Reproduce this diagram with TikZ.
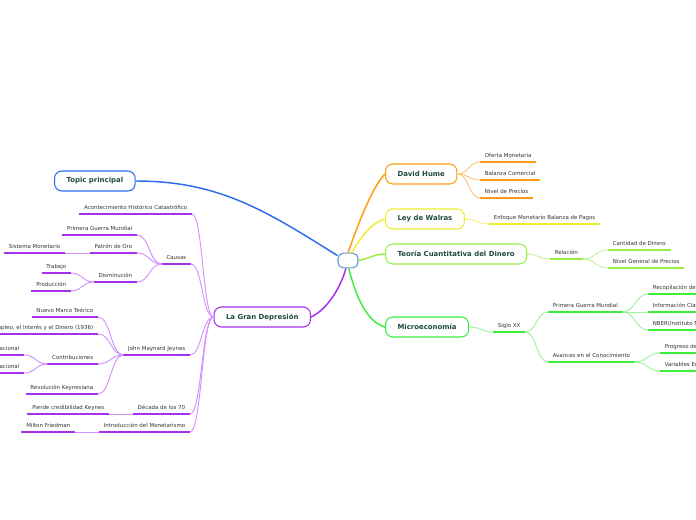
\documentclass[tikz,border=0pt]{standalone}
\usepackage{fontspec}
\setmainfont{DejaVu Sans}
\usepackage{tikz}
\usetikzlibrary{calc}

\definecolor{temaTexto}{HTML}{1E4B3C}
\definecolor{subTexto}{HTML}{333333}
\definecolor{azul}{HTML}{2E6BF0}
\definecolor{celeste}{HTML}{5C9BD0}
\definecolor{morado}{HTML}{A530EE}
\definecolor{moradoC}{HTML}{D291FF}
\definecolor{naranja}{HTML}{FF9C10}
\definecolor{naranjaC}{HTML}{FFC57A}
\definecolor{amarillo}{HTML}{EEEE30}
\definecolor{amarilloC}{HTML}{F2F27A}
\definecolor{lima}{HTML}{99EE44}
\definecolor{limaC}{HTML}{C4F29A}
\definecolor{verde}{HTML}{3CEE3C}
\definecolor{verdeC}{HTML}{9EF29E}

\begin{document}
\begin{tikzpicture}[
  x=0.75pt, y=-0.75pt,
  raiz/.style={draw=celeste, line width=0.8pt, rounded corners=4pt, fill=white,
               minimum width=15pt, minimum height=11pt},
  tema/.style={draw=#1, line width=0.8pt, rounded corners=5.5pt, fill=white,
               minimum height=15pt, inner xsep=9pt, text=temaTexto,
               font=\fontsize{5.2}{6}\selectfont\bfseries},
  sub/.style={font=\fontsize{4.1}{5}\selectfont, text=subTexto, inner xsep=3.4pt,
              inner ysep=2pt, text height=3pt, text depth=0.9pt,
              append after command={(\tikzlastnode.south west) edge[draw=#1, line width=1.5pt] (\tikzlastnode.south east)}},
  rama/.style={draw=#1, line width=1.1pt},
  enlace/.style={draw=#1, line width=0.7pt,
                 to path={let \p1=(\tikztostart), \p2=(\tikztotarget) in
                   .. controls ({(\x1+\x2)/2},\y1) and ({(\x1+\x2)/2},\y2) .. (\tikztotarget) \tikztonodes}}
]
\useasboundingbox (0,0) rectangle (696,520);
\clip (0,0) rectangle (696,520);

% ---------- Centro y temas ----------
\node[raiz] (raiz) at (348,260.5) {};
\node[tema=azul, anchor=west] (tp) at (54,181) {Topic principal};
\node[tema=naranja, anchor=west] (dh) at (385,174) {David Hume};
\node[tema=amarillo, anchor=west] (lw) at (385,219) {Ley de Walras};
\node[tema=lima, anchor=west] (tq) at (385,254) {Teoría Cuantitativa del Dinero};
\node[tema=verde, anchor=west] (mc) at (385,327) {Microeconomía};
\node[tema=morado, anchor=east] (gd) at (311,317) {La Gran Depresión};

\draw[rama=azul] (tp.east) to[out=0, in=148] (raiz.155);
\draw[rama=naranja] (raiz.90) to[out=70, in=225, looseness=0.6] (dh.west);
\draw[rama=amarillo] (raiz.65) to[out=60, in=195, looseness=0.8] (lw.west);
\draw[rama=lima] (raiz.east) to[out=10, in=180] (tq.west);
\draw[rama=verde] (raiz.-85) to[out=-75, in=165, looseness=0.8] (mc.west);
\draw[rama=morado] (raiz.-105) to[out=-105, in=25, looseness=0.8] (gd.east);

% ---------- Rama: David Hume ----------
\node[sub=naranja, anchor=south west] (dh1) at (480,162) {Oferta Monetaria};
\node[sub=naranja, anchor=south west] (dh2) at (480,180) {Balanza Comercial};
\node[sub=naranja, anchor=south west] (dh3) at (480,198) {Nivel de Precios};
\draw[enlace=naranjaC] (dh.east) to (dh1.south west);
\draw[enlace=naranjaC] (dh.east) to (dh2.south west);
\draw[enlace=naranjaC] (dh.east) to (dh3.south west);

% ---------- Rama: Ley de Walras ----------
\node[sub=amarillo, anchor=south west] (lw1) at (489,224) {Enfoque Monetario Balanza de Pagos};
\draw[enlace=amarilloC] (lw.east) to (lw1.south west);

% ---------- Rama: Teoría Cuantitativa ----------
\node[sub=lima, anchor=south west] (tq1) at (550,259) {Relación};
\node[sub=lima, anchor=south west] (tq11) at (608,250) {Cantidad de Dinero};
\node[sub=lima, anchor=south west] (tq12) at (608,268) {Nivel General de Precios};
\draw[enlace=limaC] (tq.east) to (tq1.south west);
\draw[enlace=limaC] (tq1.south east) to (tq11.south west);
\draw[enlace=limaC] (tq1.south east) to (tq12.south west);

% ---------- Rama: Microeconomía ----------
\node[sub=verde, anchor=south west] (mc1) at (493,332) {Siglo XX};
\node[sub=verde, anchor=south west] (mc11) at (548,312) {Primera Guerra Mundial};
\node[sub=verde, anchor=south west] (mc12) at (548,362) {Avances en el Conocimiento};
\node[sub=verde, anchor=south west] (mc111) at (648,294) {Recopilación de Datos Estadísticos};
\node[sub=verde, anchor=south west] (mc112) at (648,312) {Información Clave};
\node[sub=verde, anchor=south west] (mc113) at (648,330) {NBER(Instituto Nacional de Investigación Económica)};
\node[sub=verde, anchor=south west] (mc121) at (660,353) {Progreso de la Teoría};
\node[sub=verde, anchor=south west] (mc122) at (660,371) {Variables Económicas};
\draw[enlace=verdeC] (mc.east) to (mc1.south west);
\draw[enlace=verdeC] (mc1.south east) to (mc11.south west);
\draw[enlace=verdeC] (mc1.south east) to (mc12.south west);
\draw[enlace=verdeC] (mc11.south east) to (mc111.south west);
\draw[enlace=verdeC] (mc11.south east) to (mc112.south west);
\draw[enlace=verdeC] (mc11.south east) to (mc113.south west);
\draw[enlace=verdeC] (mc12.south east) to (mc121.south west);
\draw[enlace=verdeC] (mc12.south east) to (mc122.south west);

% ---------- Rama: La Gran Depresión ----------
\node[sub=morado, anchor=south east] (gd1) at (192,214) {Acontecimiento Histórico Catastrófico};
\node[sub=morado, anchor=south east] (gd2) at (191,264) {Causas};
\node[sub=morado, anchor=south east] (gd3) at (190,355) {John Maynard Jeynes};
\node[sub=morado, anchor=south east] (gd4) at (190,414) {Década de los 70};
\node[sub=morado, anchor=south east] (gd5) at (190,432) {Introducción del Monetarismo};
\foreach \hijo in {gd1,gd2,gd3,gd4,gd5}
  \draw[enlace=moradoC] (gd.west) to (\hijo.south east);

% Causas
\node[sub=morado, anchor=south east] (ca1) at (137,235) {Primera Guerra Mundial};
\node[sub=morado, anchor=south east] (ca2) at (137,253) {Patrón de Oro};
\node[sub=morado, anchor=south east] (ca3) at (137,282) {Disminución};
\node[sub=morado, anchor=south east] (ca21) at (65,253) {Sistema Monetario};
\node[sub=morado, anchor=south east] (ca31) at (71,273) {Trabajo};
\node[sub=morado, anchor=south east] (ca32) at (71,291) {Producción};
\draw[enlace=moradoC] (gd2.south west) to (ca1.south east);
\draw[enlace=moradoC] (gd2.south west) to (ca2.south east);
\draw[enlace=moradoC] (gd2.south west) to (ca3.south east);
\draw[enlace=moradoC] (ca2.south west) to (ca21.south east);
\draw[enlace=moradoC] (ca3.south west) to (ca31.south east);
\draw[enlace=moradoC] (ca3.south west) to (ca32.south east);

% John Maynard Jeynes
\node[sub=morado, anchor=south east] (jm1) at (98,317) {Nuevo Marco Teórico};
\node[sub=morado, anchor=south east] (jm2) at (98,334) {Teoría General del Empleo, el Interés y el Dinero (1936)};
\node[sub=morado, anchor=south east] (jm3) at (98,364) {Contribuciones};
\node[sub=morado, anchor=south east] (jm4) at (98,394) {Revolución Keynesiana};
\node[sub=morado, anchor=south east] (jm31) at (24,355) {Contabilidad Nacional};
\node[sub=morado, anchor=south east] (jm32) at (24,373) {Renta Nacional};
\foreach \hijo in {jm1,jm2,jm3,jm4}
  \draw[enlace=moradoC] (gd3.south west) to (\hijo.south east);
\draw[enlace=moradoC] (jm3.south west) to (jm31.south east);
\draw[enlace=moradoC] (jm3.south west) to (jm32.south east);

% Década de los 70 / Monetarismo
\node[sub=morado, anchor=south east] (gd41) at (109,414) {Pierde credibilidad Keynes};
\node[sub=morado, anchor=south east] (gd51) at (75,432) {Milton Friedman};
\draw[enlace=moradoC] (gd4.south west) to (gd41.south east);
\draw[enlace=moradoC] (gd5.south west) to (gd51.south east);

\end{tikzpicture}
\end{document}
